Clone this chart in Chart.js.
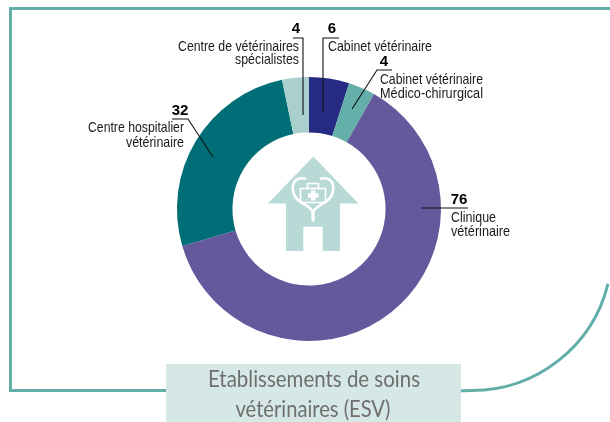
<!DOCTYPE html>
<html><head><meta charset="utf-8">
<script src="https://cdn.jsdelivr.net/npm/chart.js@4"></script>
<style>html,body{margin:0;padding:0;background:#fff}#w{position:absolute;left:0;top:0;width:610px;height:422px}</style>
</head><body><div id="w"><canvas id="c"></canvas></div>
<script>
const categories = ["Cabinet vétérinaire","Cabinet vétérinaire Médico-chirurgical","Clinique vétérinaire","Centre hospitalier vétérinaire","Centre de vétérinaires spécialistes"];
const values = [6,4,76,32,4];
const titleLines = ["Etablissements de soins","vétérinaires (ESV)"];
const colors = ["#252b82","#64afaa","#63599c","#006e76","#a9d0cd"];

const NARROW = '"Liberation Sans Narrow","Liberation Sans",sans-serif';
const callouts = [
 {i:0,num:[332,29],lines:["Cabinet vétérinaire"],align:"left",tx:328,ty:[47],w:[104],path:[[339,38],[323,38],[323,112]]},
 {i:1,num:[384,62],lines:["Cabinet vétérinaire","Médico-chirurgical"],align:"left",tx:380,ty:[80,94],w:[103,103],path:[[392,70],[377,70],[352,109]]},
 {i:2,num:[459,200],lines:["Clinique","vétérinaire"],align:"left",tx:451,ty:[218,232],w:[45,59],path:[[468,208],[421,208]]},
 {i:3,num:[180,111],lines:["Centre hospitalier","vétérinaire"],align:"right",tx:184,ty:[128,143],w:[96,58],path:[[172,119],[188,119],[213,157]]},
 {i:4,num:[296,29],lines:["Centre de vétérinaires","spécialistes"],align:"right",tx:299,ty:[47,60],w:[121,64],path:[[293,38],[303,38],[303,115]]}
];

const frame = {id:'frame',beforeDraw(ch){
  const c=ch.ctx;c.save();
  c.strokeStyle='#62aea9';c.lineWidth=3;
  c.beginPath();c.moveTo(610,8.5);c.lineTo(10.5,8.5);c.lineTo(10.5,390.5);c.lineTo(170,390.5);
  c.moveTo(455,391);c.lineTo(472,390.5);c.arc(472,250.5,140,Math.PI/2,Math.PI/2-1.33,true);c.stroke();
  c.fillStyle='#d5e8e6';c.fillRect(166,364,295,58);
  c.fillStyle='#6e6e6e';c.font='400 23px Lato,sans-serif';c.textAlign='center';c.textBaseline='middle';
  c.fillText(titleLines[0],314,380,212);c.fillText(titleLines[1],313,410,155);
  c.restore();
}};

const notes = {id:'notes',afterDraw(ch){
  const c=ch.ctx;c.save();
  // house
  c.fillStyle='#b9d9d6';c.beginPath();
  c.moveTo(313.3,156.5);c.lineTo(358.5,203.5);c.lineTo(340,203.5);c.lineTo(340,251);c.lineTo(322.7,251);c.lineTo(322.7,226.7);c.lineTo(303.3,226.7);c.lineTo(303.3,251);c.lineTo(286,251);c.lineTo(286,203.5);c.lineTo(268,203.5);c.closePath();c.fill();
  // stethoscope & case
  c.strokeStyle='#fff';c.fillStyle='#fff';c.lineWidth=2.6;c.lineCap='round';c.lineJoin='round';
  c.beginPath();c.moveTo(305,178.5);c.bezierCurveTo(295,177,292,183,293,191);c.bezierCurveTo(295,204,309,203,313,212);
  c.bezierCurveTo(317,203,331,204,333,191);c.bezierCurveTo(334,183,331,177,321,178.5);c.stroke();
  c.lineWidth=3.4;c.beginPath();c.moveTo(313,212);c.lineTo(313,220);c.stroke();
  c.lineWidth=1.7;c.strokeRect(300.5,188.5,25,14);c.strokeRect(307.5,183.5,11,5);
  c.fillRect(311,190.5,4.5,10);c.fillRect(308,193.3,10.5,4.4);
  // callouts
  c.strokeStyle='#111';c.lineWidth=1.1;c.lineCap='butt';c.lineJoin='miter';
  c.textBaseline='middle';
  for(const k of callouts){
    c.beginPath();k.path.forEach((p,j)=>j?c.lineTo(p[0],p[1]):c.moveTo(p[0],p[1]));c.stroke();
    c.fillStyle='#000';c.textAlign='center';c.font='bold 15px "Liberation Sans",sans-serif';
    c.fillText(String(values[k.i]),k.num[0],k.num[1],k.i===3||k.i===2?17:9);
    c.fillStyle='#1a1a1a';c.textAlign=k.align;c.font='15px '+NARROW;
    k.lines.forEach((t,j)=>c.fillText(t,k.tx,k.ty[j],k.w[j]));
  }
  c.restore();
}};

new Chart(document.getElementById('c'),{
  type:'doughnut',
  data:{labels:categories,datasets:[{data:values,backgroundColor:colors,borderWidth:0}]},
  options:{responsive:true,maintainAspectRatio:false,animation:false,cutout:'58%',
    layout:{padding:{left:177,right:169,top:77,bottom:81}},
    plugins:{legend:{display:false},tooltip:{enabled:false},title:{display:false}}},
  plugins:[frame,notes]
});
</script></body></html>
